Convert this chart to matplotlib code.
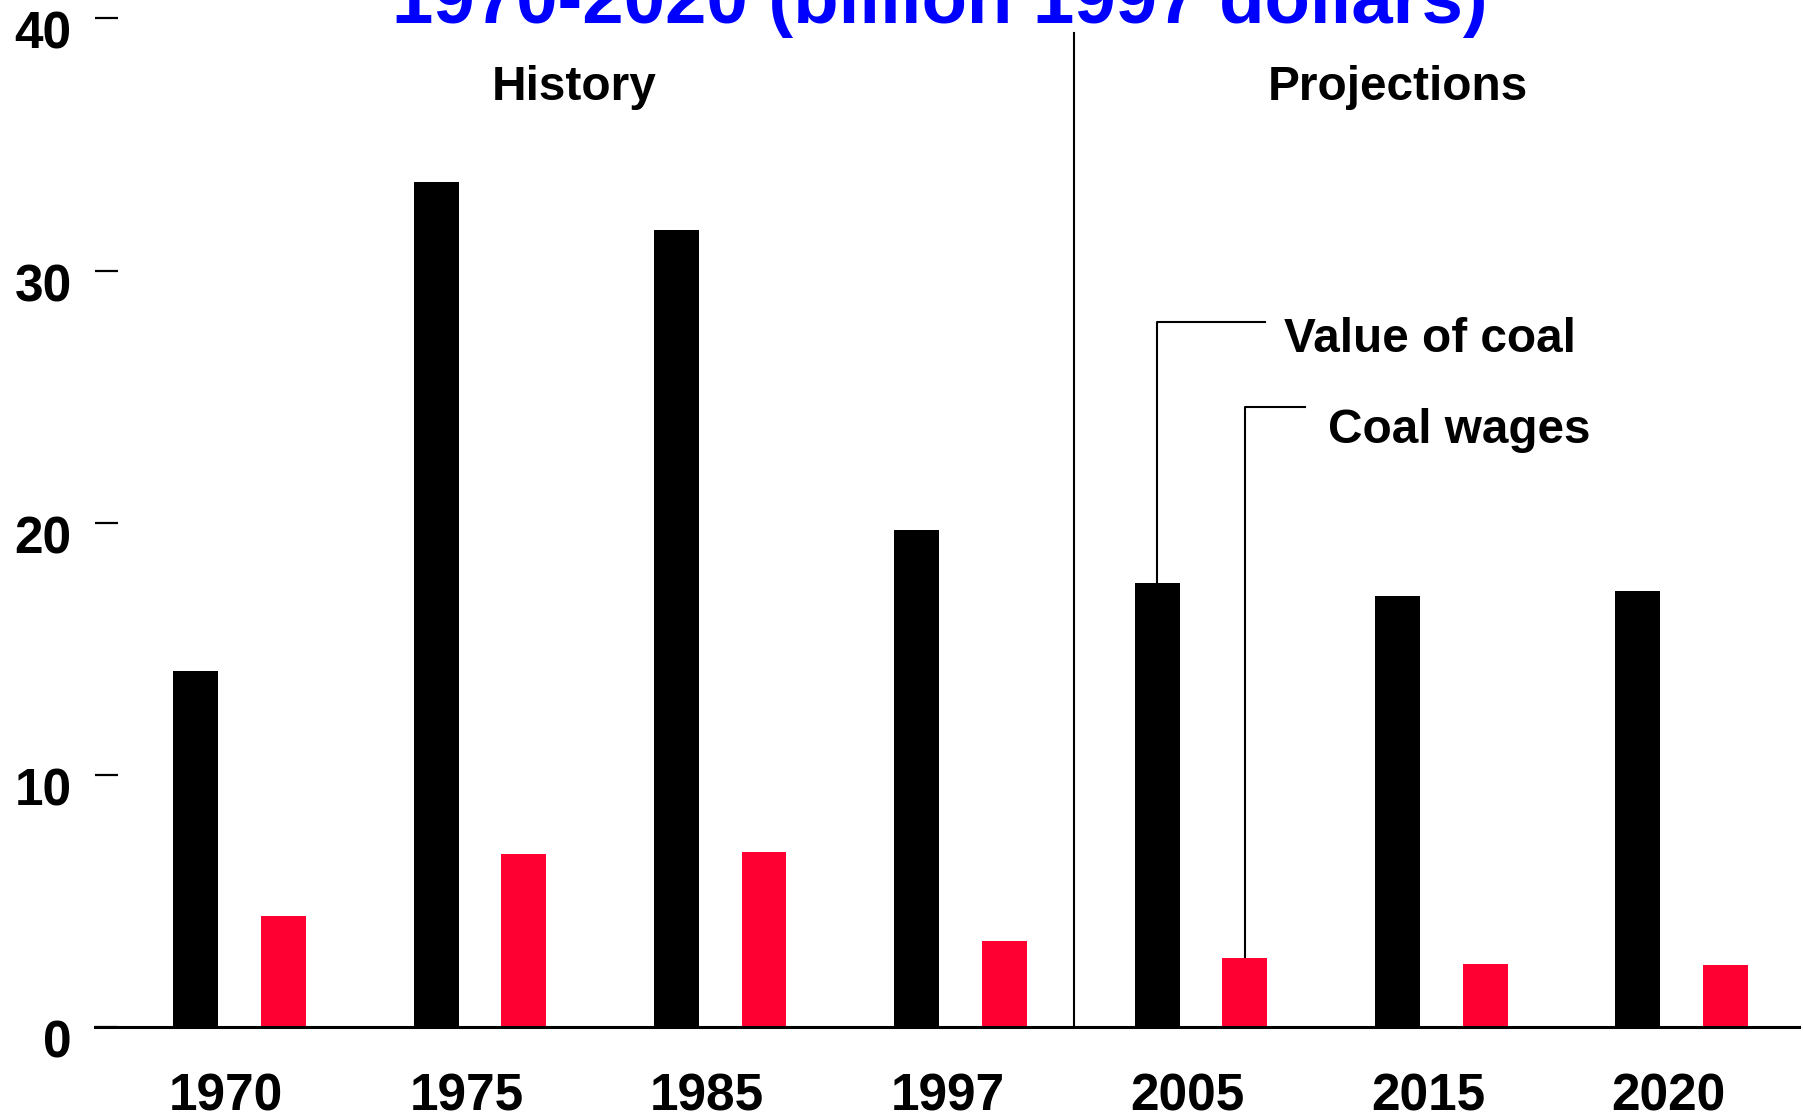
import matplotlib
matplotlib.use("Agg")
import matplotlib.pyplot as plt
import matplotlib.transforms as mtransforms
import numpy as np

years = ["1970", "1975", "1985", "1997", "2005", "2015", "2020"]
value_of_coal = [14.1, 33.5, 31.6, 19.7, 17.6, 17.1, 17.3]
coal_wages = [4.4, 6.85, 6.95, 3.4, 2.75, 2.5, 2.45]
title_text = "1970-2020 (billion 1997 dollars)"
series_names = ["Value of coal", "Coal wages"]
section_names = ["History", "Projections"]

plt.rcParams['font.family'] = ['Liberation Sans', 'DejaVu Sans']
plt.rcParams['font.weight'] = 'bold'

fig = plt.figure(figsize=(18.03, 11.2), dpi=100)
ax = fig.add_axes([0.0529, 0.083, 0.998 - 0.0529, 0.9836 - 0.083])

x = np.arange(len(years))
bw = 0.187
black_off = -0.127
red_off = 0.237
ax.bar(x + black_off, value_of_coal, width=bw, color='black', zorder=2)
ax.bar(x + red_off, coal_wages, width=bw, color='#FF0033', zorder=2)

ax.set_xlim(-0.545, 6.545)
ax.set_ylim(0, 40)
ax.set_yticks([0, 10, 20, 30, 40])
ax.set_xticks(x)
ax.set_xticklabels(years)

for s in ['top', 'right', 'left']:
    ax.spines[s].set_visible(False)
ax.spines['bottom'].set_linewidth(2.2)
ax.spines['bottom'].set_zorder(3)

ax.tick_params(axis='y', direction='in', length=16.6, width=1.6, pad=17, labelsize=37)
ax.tick_params(axis='x', length=0, pad=33, labelsize=37)
for lab in ax.get_yticklabels():
    lab.set_fontweight('bold')
    lab.set_transform(lab.get_transform() + mtransforms.ScaledTranslation(0, -11.5 / 100, fig.dpi_scale_trans))
for lab in ax.get_xticklabels():
    lab.set_fontweight('bold')

# divider between history and projections
ax.plot([3.526, 3.526], [0, 39.4], color='black', lw=1.5, zorder=1, clip_on=False)

ax.text(1.445, 37.25, section_names[0], ha='center', va='center', fontsize=34.4, fontweight='bold')
ax.text(4.876, 37.25, section_names[1], ha='center', va='center', fontsize=34.4, fontweight='bold')

# leader lines
xb = 4 + black_off
xr = 4 + red_off
ax.plot([xb, xb, 4.32], [value_of_coal[4], 27.96, 27.96], color='black', lw=1.5, zorder=1)
ax.plot([xr, xr, 4.488], [coal_wages[4], 24.58, 24.58], color='black', lw=1.5, zorder=1)
ax.text(4.40, 27.27, series_names[0], ha='left', va='center', fontsize=34.4, fontweight='bold')
ax.text(4.584, 23.67, series_names[1], ha='left', va='center', fontsize=34.4, fontweight='bold')

fig.text(0.5215, 1 - 23 / 1120, title_text, ha='center', va='baseline', fontsize=53.6,
         fontweight='bold', color='#0000FF')

fig.savefig("out.png", dpi=100)
